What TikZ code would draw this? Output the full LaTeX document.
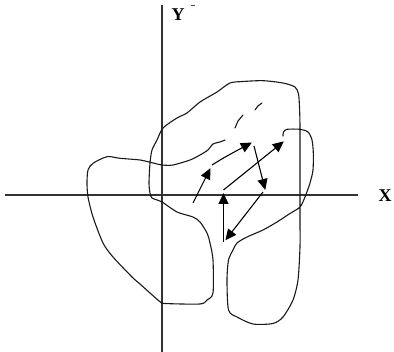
\documentclass[tikz,border=0pt]{standalone}
\usepackage{fontspec}
\setmainfont{Liberation Serif}
\usetikzlibrary{arrows.meta}
\tikzset{
  outline/.style={line width=1.1pt, black!90, line join=round, line cap=round},
  axis/.style={line width=1.2pt, black!80},
  flow/.style={line width=1.1pt, black, -{Triangle[length=11pt,width=10pt]}, shorten >=-1pt},
  lbl/.style={font=\fontsize{18}{18}\selectfont\bfseries, inner sep=0pt}
}
\begin{document}
\begin{tikzpicture}[x=1pt,y=-1pt]
\useasboundingbox (0,0) rectangle (394,352);
% axes
\coordinate (xl) at (5,195); \coordinate (xr) at (358,195);
\coordinate (yt) at (162,5); \coordinate (yb) at (162,352);
\draw[axis] (xl) -- (xr);
\draw[axis] (yt) -- (yb);
\node[lbl] (X) at (385,196) {X};
\node[lbl] (Y) at (178,15) {Y};
\draw[line width=0.7pt, black!70] (190.5,5) -- (195,5);
% region outlines
\draw[outline] plot[smooth, tension=0.45] coordinates {
 (225,140) (220,142) (213,144) (208,150) (200,155) (190,160) (173,165) (162,165)
 (152,162.7) (140,160) (120,158.3) (107,156.7) (93,163.3) (88,170) (87,183) (88,197)
 (93,217) (103,243) (113,257) (132,277) (140,284) (150,293) (160,301.7) (165,303.5)
 (200,304) (207,300) (213,293) (213,260) (210,243) (207,233) (200,222) (193,217)
 (177,212) (162,202) (152,198) (150,193) (149,183) (150,163) (152,150) (157,140)
 (163,128) (177,118) (187,113) (200,102) (217,92) (230,83) (243,81.5) (263,80.7)
 (283,83) (295,87) (298.5,94) (299.5,107) (300,127) (300,170) (300,222) (300,247)
 (298,280) (293,300) (283,317) (273,323.5) (253,324) (237,317) (228.5,310) (227,280)
 (228.5,260) (233,250) (237,243) (247,237) (263,230) (277,222) (290,213.5) (300,207)
 (305,197) (310,183) (313,170) (313.3,153) (312,140) (308,132) (300,129.3) (287,129.3)
 (283.5,132) (283,136)};
\draw[outline] (235,128) -- (238,121) -- (243,115);
\draw[outline] (255,110) -- (258,106) -- (262,103);
% arrows
\coordinate (p0) at (193,203);
\coordinate (q) at (210,169);
\coordinate (q2) at (212,165);
\coordinate (p1) at (251,143);
\coordinate (p1s) at (254,146);
\coordinate (p2) at (265,189);
\coordinate (p2s) at (263,192);
\coordinate (p3) at (226,239.5);
\coordinate (p4b) at (223.5,242);
\coordinate (p4) at (223.5,194);
\coordinate (p4s) at (223.5,190);
\coordinate (p5) at (283,142);
\draw[flow] (p0) -- (q);
\draw[flow] (q2) .. controls (225,157) .. (p1);
\draw[flow] (p1s) -- (p2);
\draw[flow] (p2s) -- (p3);
\draw[flow] (p4b) -- (p4);
\draw[flow] (p4s) -- (p5);
\end{tikzpicture}
\end{document}
